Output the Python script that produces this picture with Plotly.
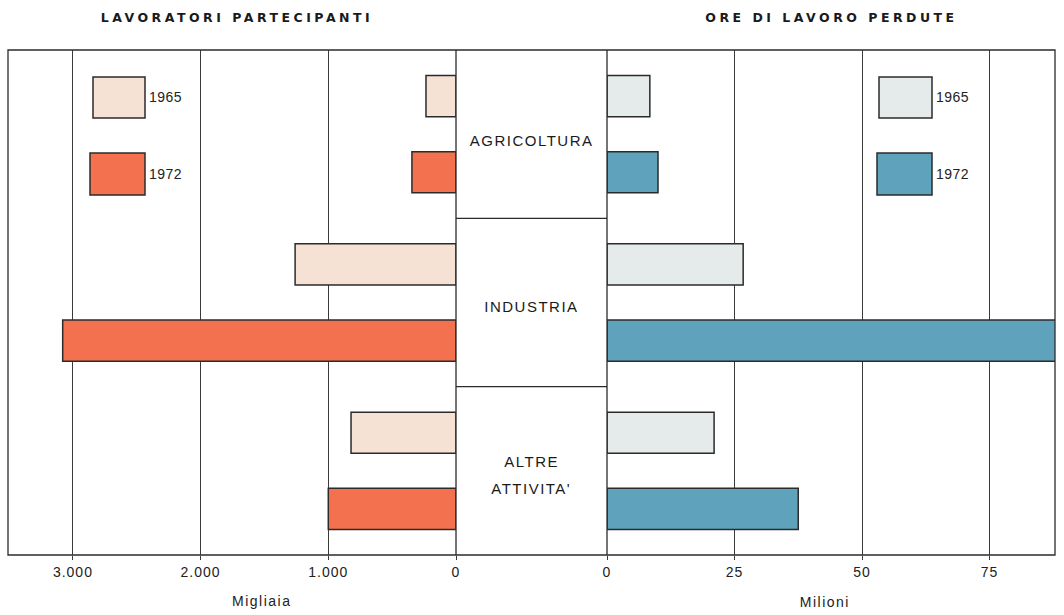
import plotly.graph_objects as go

# ---------------- data ----------------
categories = ["AGRICOLTURA", "INDUSTRIA", "ALTRE ATTIVITA'"]
category_labels = ["AGRICOLTURA", "INDUSTRIA", "ALTRE<br>ATTIVITA'"]
years = ["1965", "1972"]

# Lavoratori partecipanti (migliaia)
workers_1965 = [235, 1260, 822]
workers_1972 = [345, 3080, 1000]

# Ore di lavoro perdute (milioni)
hours_1965 = [8.4, 26.7, 21.0]
hours_1972 = [10.0, 89.0, 37.5]

left_ticks = [3000, 2000, 1000, 0]
left_ticktext = ["3.000", "2.000", "1.000", "0"]
right_ticks = [0, 25, 50, 75]
right_ticktext = ["0", "25", "50", "75"]

# ---------------- styling ----------------
W, H = 1064, 615
ML, MR, MT, MB = 8, 9, 50, 60
PW = W - ML - MR
PH = H - MT - MB

LEFT_1965 = "#f5e2d4"
LEFT_1972 = "#f4714f"
RIGHT_1965 = "#e5ebea"
RIGHT_1972 = "#5fa2bb"
EDGE = "#2b2b2b"
FONT = "Liberation Sans, Arial, sans-serif"


def px_x(px):
    return (px - ML) / PW


def px_y(py):
    return (H - MB - py) / PH


LEFT_END = 456
RIGHT_START = 607

fig = go.Figure()

fig.add_trace(go.Bar(y=categories, x=workers_1965, orientation="h", name="1965",
                     marker=dict(color=LEFT_1965, line=dict(color=EDGE, width=1.5)),
                     xaxis="x", yaxis="y", showlegend=False))
fig.add_trace(go.Bar(y=categories, x=workers_1972, orientation="h", name="1972",
                     marker=dict(color=LEFT_1972, line=dict(color=EDGE, width=1.5)),
                     xaxis="x", yaxis="y", showlegend=False))
fig.add_trace(go.Bar(y=categories, x=hours_1965, orientation="h", name="1965",
                     marker=dict(color=RIGHT_1965, line=dict(color=EDGE, width=1.5)),
                     xaxis="x2", yaxis="y", showlegend=False))
fig.add_trace(go.Bar(y=categories, x=hours_1972, orientation="h", name="1972",
                     marker=dict(color=RIGHT_1972, line=dict(color=EDGE, width=1.5)),
                     xaxis="x2", yaxis="y", showlegend=False))

left_range = [(LEFT_END - ML) / 127.7 * 1000, 0]
right_range = [0, (W - MR - RIGHT_START) / 5.1]

axis_common = dict(showgrid=True, gridcolor="#3a3a3a", gridwidth=1, zeroline=False,
                   showline=False, ticks="outside", ticklen=4, tickcolor="#3a3a3a",
                   automargin=False,
                   tickfont=dict(family=FONT, size=14, color="#222"), fixedrange=True)

fig.update_layout(
    width=W, height=H, autosize=False,
    margin=dict(l=ML, r=MR, t=MT, b=MB, pad=0, autoexpand=False),
    paper_bgcolor="white", plot_bgcolor="white",
    barmode="group", bargap=0.095, bargroupgap=0.46,
    xaxis=dict(domain=[0, px_x(LEFT_END)], range=left_range,
               tickvals=left_ticks, ticktext=left_ticktext, **axis_common),
    xaxis2=dict(domain=[px_x(RIGHT_START), 1], range=right_range, anchor="y",
                tickvals=right_ticks, ticktext=right_ticktext, **axis_common),
    yaxis=dict(type="category", categoryorder="array", categoryarray=categories,
               range=[2.5, -0.5], showticklabels=False, showgrid=False, automargin=False,
               zeroline=False, showline=False, fixedrange=True),
)

shapes = []
line = dict(color="#2b2b2b", width=1.3)
# outer frame
shapes.append(dict(type="rect", xref="paper", yref="paper", x0=0, x1=1, y0=0, y1=1,
                   line=line, fillcolor="rgba(0,0,0,0)", layer="above"))
# middle box edges
for xp in (LEFT_END, RIGHT_START):
    shapes.append(dict(type="line", xref="paper", yref="paper", x0=px_x(xp), x1=px_x(xp),
                       y0=0, y1=1, line=line, layer="above"))
# separators in the middle box (category boundaries)
for b in (0.5, 1.5):
    shapes.append(dict(type="line", xref="paper", yref="y", x0=px_x(LEFT_END), x1=px_x(RIGHT_START),
                       y0=b, y1=b, line=line))

# legend boxes
legend_specs = [
    (93, 145, 77, 118, LEFT_1965, "1965", 148),
    (90, 145, 153, 195, LEFT_1972, "1972", 148),
    (879, 932, 77, 118, RIGHT_1965, "1965", 935),
    (877, 932, 153, 195, RIGHT_1972, "1972", 935),
]
annotations = []
for x0, x1, y0, y1, col, txt, tx in legend_specs:
    shapes.append(dict(type="rect", xref="paper", yref="paper",
                       x0=px_x(x0), x1=px_x(x1), y0=px_y(y1), y1=px_y(y0),
                       line=dict(color=EDGE, width=1.5), fillcolor=col, layer="above"))
    annotations.append(dict(xref="paper", yref="paper", x=px_x(tx), y=px_y((y0 + y1) / 2),
                            text=txt, showarrow=False, xanchor="left", yanchor="middle",
                            font=dict(family=FONT, size=14, color="#222")))

# category labels in the middle box (lines spaced as in the original)
label_shift = [-6, -4, -4]
line_gap = 27
for cat, lab, sh in zip(categories, category_labels, label_shift):
    lines = lab.split("<br>")
    n = len(lines)
    for i, ln in enumerate(lines):
        offset = (i - (n - 1) / 2) * line_gap
        annotations.append(dict(xref="paper", yref="y", x=px_x((LEFT_END + RIGHT_START) / 2), y=cat,
                                text=ln, showarrow=False, xanchor="center", yanchor="middle",
                                yshift=sh - offset,
                                font=dict(family=FONT, size=15, color="#1a1a1a")))

# panel titles
annotations.append(dict(xref="paper", yref="paper", x=px_x(237), y=px_y(18),
                        text="<b>LAVORATORI PARTECIPANTI</b>", showarrow=False,
                        xanchor="center", yanchor="middle",
                        font=dict(family="DejaVu Sans, sans-serif", size=12.5, color="#1a1a1a")))
annotations.append(dict(xref="paper", yref="paper", x=px_x(832), y=px_y(18),
                        text="<b>ORE DI LAVORO PERDUTE</b>", showarrow=False,
                        xanchor="center", yanchor="middle",
                        font=dict(family="DejaVu Sans, sans-serif", size=12.5, color="#1a1a1a")))
# unit labels
annotations.append(dict(xref="paper", yref="paper", x=px_x(262), y=px_y(601),
                        text="Migliaia", showarrow=False, xanchor="center", yanchor="middle",
                        font=dict(family=FONT, size=14, color="#222")))
annotations.append(dict(xref="paper", yref="paper", x=px_x(825), y=px_y(602),
                        text="Milioni", showarrow=False, xanchor="center", yanchor="middle",
                        font=dict(family=FONT, size=14, color="#222")))

fig.update_layout(shapes=shapes, annotations=annotations)

post = """
document.body.style.margin = '0';
document.body.style.padding = '0';
document.body.style.overflow = 'hidden';
function spaceText() {
  var gd = document.getElementById('{plot_id}');
  gd.querySelectorAll('.annotation-text').forEach(function (t) {
    var s = t.textContent;
    if (s.indexOf('LAVORATORI') >= 0 || s.indexOf('ORE DI') >= 0) {
      t.style.letterSpacing = '3.5px';
    } else if (s.indexOf('AGRICOLTURA') >= 0 || s.indexOf('INDUSTRIA') >= 0 ||
               s.indexOf('ALTRE') >= 0 || s.indexOf('ATTIVITA') >= 0) {
      t.style.letterSpacing = '1.5px';
    } else if (s === 'Migliaia' || s === 'Milioni') {
      t.style.letterSpacing = '1.5px';
    } else if (s === '1965' || s === '1972') {
      t.style.letterSpacing = '0.5px';
    }
  });
  gd.querySelectorAll('.xtick text, .x2tick text').forEach(function (t) {
    t.style.letterSpacing = '1px';
  });
}
spaceText();
"""

fig.write_html("out.html", post_script=post, config={"displayModeBar": False})
